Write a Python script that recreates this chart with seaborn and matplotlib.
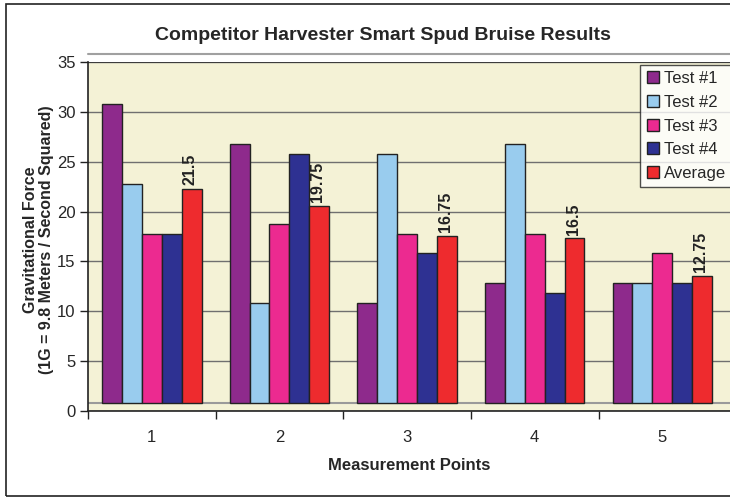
import numpy as np
import pandas as pd
import matplotlib
matplotlib.use("Agg")
import matplotlib.pyplot as plt
import seaborn as sns
from matplotlib.patches import Rectangle
from matplotlib.lines import Line2D

# --- DATA ---
points = ['1', '2', '3', '4', '5']
test1 = [30, 26, 10, 12, 12]
test2 = [22, 10, 25, 26, 12]
test3 = [17, 18, 17, 17, 15]
test4 = [17, 25, 15, 11, 12]
average = [21.5, 19.75, 16.75, 16.5, 12.75]
series_names = ['Test #1', 'Test #2', 'Test #3', 'Test #4', 'Average']
avg_labels = ['21.5', '19.75', '16.75', '16.5', '12.75']

colors = ['#8E2A8C', '#99CCEE', '#EC2A90', '#2E3192', '#EE2B2E']
FLOOR = 0.8  # excel-style floor the bars sit on

rows = []
for name, vals in zip(series_names, [test1, test2, test3, test4, average]):
    for p, v in zip(points, vals):
        rows.append({'Point': p, 'Force': v, 'Series': name})
df = pd.DataFrame(rows)

sns.set_style('white')
plt.rcParams['font.family'] = ['Liberation Sans', 'DejaVu Sans']

fig = plt.figure(figsize=(7.30, 4.99), dpi=100)
ax = fig.add_axes([88 / 730, 88 / 499, 642 / 730, 349 / 499])
ax.set_facecolor('#F4F2D6')

sns.barplot(data=df, x='Point', y='Force', hue='Series', palette=colors,
            hue_order=series_names, width=0.78, edgecolor='#222222',
            linewidth=1.0, saturation=1, legend=False, ax=ax, zorder=3)

# lift bars onto the floor
for cont in ax.containers:
    for bar in cont:
        bar.set_y(FLOOR)

# value labels on average bars
avg_bars = ax.containers[-1]
for bar, lab in zip(avg_bars, avg_labels):
    ax.text(bar.get_x() + bar.get_width() / 2 - 0.01, bar.get_y() + bar.get_height() + 0.4,
            lab, rotation=90, ha='center', va='bottom', fontsize=11.5, fontweight='bold',
            color='#222222', zorder=4)

ax.set_ylim(0, 35)
ax.set_xlim(-0.5, 4.53)
ax.set_yticks(range(0, 36, 5))
ax.grid(axis='y', color='#6f6f6f', linewidth=1.0, zorder=0)
ax.axhline(FLOOR, color='#9a9a9a', linewidth=1.5, zorder=2)

# ticks between groups, labels at centers
ax.set_xticks([-0.5, 0.5, 1.5, 2.5, 3.5])
ax.set_xticklabels([])
ax.set_xticks(range(5), minor=True)
ax.set_xticklabels(points, minor=True)
ax.tick_params(axis='x', which='major', length=6, width=1, direction='out', bottom=True, color='#222222')
ax.tick_params(axis='x', which='minor', length=0, pad=14, labelsize=12)
ax.tick_params(axis='y', length=6, width=1, direction='out', left=True, labelsize=12, pad=3, color='#222222')

for s in ['top', 'right']:
    ax.spines[s].set_visible(False)
for s in ['left', 'bottom']:
    ax.spines[s].set_color('#222222')
    ax.spines[s].set_linewidth(1.2)
ax.axhline(35, color='#333333', linewidth=1.2, zorder=1)

ax.set_xlabel('Measurement Points', fontsize=12, fontweight='bold', labelpad=9)
ax.set_ylabel('Gravitational Force\n(1G = 9.8 Meters / Second Squared)', fontsize=11.5,
              fontweight='bold', linespacing=1.05)
ax.yaxis.set_label_coords(-34 / 642, 0.49)

handles = [Line2D([0], [0], marker='s', linestyle='', markersize=8,
                  markerfacecolor=c, markeredgecolor='#222222') for c in colors]
leg = ax.legend(handles, series_names, loc='upper left', bbox_to_anchor=(552 / 642, 0.99),
                fontsize=12, frameon=True, fancybox=False, handlelength=0.8,
                handletextpad=0.3, borderpad=0.35, labelspacing=0.52, borderaxespad=0)
leg.get_frame().set_edgecolor('#222222')
leg.get_frame().set_linewidth(1.0)
leg.get_frame().set_facecolor('white')

fig.suptitle('Competitor Harvester Smart Spud Bruise Results', x=383 / 730, y=1 - 36 / 499,
             va='center', fontsize=14, fontweight='bold')

# chart border and plot-area top line
fig.add_artist(Rectangle((6 / 730, 3 / 499), 730 / 730, 492 / 499, transform=fig.transFigure,
                         fill=False, edgecolor='#222222', linewidth=1.2))
fig.add_artist(Line2D([88 / 730, 1], [1 - 54 / 499, 1 - 54 / 499], transform=fig.transFigure,
                      color='#a0a0a0', linewidth=1.5))

fig.savefig('out.png', dpi=100)
